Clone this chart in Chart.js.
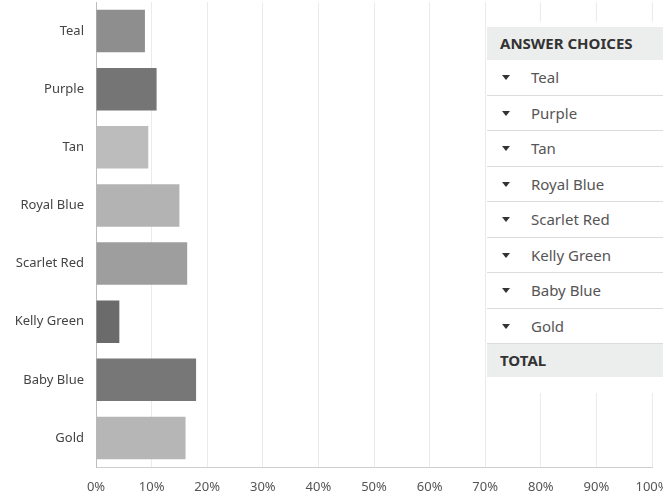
<!DOCTYPE html>
<html lang="en">
<head>
  <meta charset="UTF-8">
  <title>Answer Choices</title>
  <script src="https://cdn.jsdelivr.net/npm/chart.js@4.4.0/dist/chart.umd.min.js"></script>
  <style>
    html, body { margin: 0; padding: 0; background: #fff; }
    body { width: 663px; height: 494px; overflow: hidden; position: relative; font-family: 'Noto Sans', sans-serif; }
    #wrap { position: absolute; left: 0; top: 0; width: 663px; height: 494px; }
    /* answer choices table laid over the right side of the chart */
    .choices {
      position: absolute;
      left: 487px;
      top: 22px;
      width: 176px;
      height: 371px;
      background: #fff;
      color: #555;
      font-size: 15px;
    }
    .choices .head, .choices .total {
      background: #eceded;
      color: #333;
      font-weight: 700;
      height: 33px;
      line-height: 33px;
      padding-left: 13px;
    }
    .choices .head { margin-top: 5px; }
    .choices .row {
      height: 34.5px;
      line-height: 34.5px;
      border-bottom: 1px solid #dcdcdc;
      padding-left: 15px;
    }
    .choices .row:last-of-type { border-bottom: none; }
    .caret {
      display: inline-block;
      width: 0; height: 0;
      border-left: 4px solid transparent;
      border-right: 4px solid transparent;
      border-top: 5px solid #333;
      vertical-align: middle;
      margin-right: 21px;
      position: relative;
      top: -1px;
    }
  </style>
</head>
<body>
  <div id="wrap"><canvas id="chart" width="663" height="494"></canvas></div>
  <div class="choices" id="choices"></div>

  <script>
    // data
    const categories = ['Teal', 'Purple', 'Tan', 'Royal Blue', 'Scarlet Red', 'Kelly Green', 'Baby Blue', 'Gold'];
    const percentages = [8.8, 10.9, 9.4, 15.0, 16.4, 4.2, 18.0, 16.1];
    const barColors = ['#8e8e8e', '#757575', '#bcbcbc', '#b3b3b3', '#9e9e9e', '#6b6b6b', '#777777', '#b6b6b6'];
    const xTicks = [0, 10, 20, 30, 40, 50, 60, 70, 80, 90, 100];

    // answer choices list
    const box = document.getElementById('choices');
    let html = '<div class="head">ANSWER CHOICES</div>';
    categories.forEach(c => {
      html += '<div class="row"><span class="caret"></span>' + c + '</div>';
    });
    html += '<div class="total">TOTAL</div>';
    box.innerHTML = html;

    const ctx = document.getElementById('chart').getContext('2d');
    new Chart(ctx, {
      type: 'bar',
      data: {
        labels: categories,
        datasets: [{
          data: percentages,
          backgroundColor: barColors,
          borderWidth: 0,
          barPercentage: 0.73,
          categoryPercentage: 1.0
        }]
      },
      options: {
        indexAxis: 'y',
        responsive: false,
        animation: false,
        layout: { padding: { top: 2, right: 11, left: 0, bottom: 0 } },
        plugins: { legend: { display: false }, tooltip: { enabled: false } },
        scales: {
          x: {
            min: 0,
            max: 100,
            afterBuildTicks: (scale) => { scale.ticks = xTicks.map(v => ({ value: v })); },
            afterFit: (scale) => { scale.height = 27; scale.paddingRight = 0; scale.paddingLeft = 0; },
            grid: { color: '#ebebeb', drawTicks: false, lineWidth: 1 },
            border: { color: '#cfcfcf' },
            ticks: {
              padding: 12,
              color: '#555',
              font: { family: 'Noto Sans', size: 13 },
              callback: (v) => v + '%'
            }
          },
          y: {
            afterFit: (scale) => { scale.width = 96; scale.paddingTop = 0; scale.paddingBottom = 0; },
            grid: { display: false, drawTicks: false },
            border: { color: '#bdbdbd' },
            ticks: {
              padding: 12,
              color: '#444',
              font: { family: 'Noto Sans', size: 13 }
            }
          }
        }
      }
    });
  </script>
</body>
</html>
